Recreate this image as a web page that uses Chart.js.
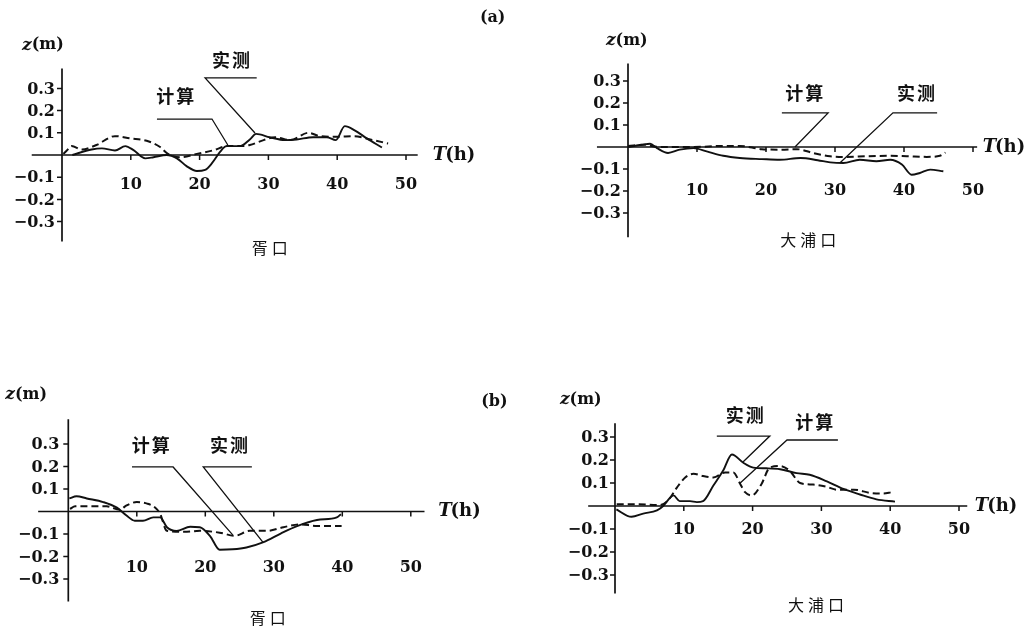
<!DOCTYPE html>
<html><head><meta charset="utf-8">
<script src="https://cdn.jsdelivr.net/npm/chart.js@4"></script>
<style>
html,body{margin:0;padding:0;background:#fff;width:1033px;height:629px;overflow:hidden}
canvas{position:absolute;left:0;top:0}
</style></head><body>
<canvas id="c0" width="1033" height="629"></canvas>
<canvas id="c1" width="1033" height="629"></canvas>
<canvas id="c2" width="1033" height="629"></canvas>
<canvas id="c3" width="1033" height="629"></canvas>
<script>
// ---------- data ----------
const xTicks = [10, 20, 30, 40, 50];
const yTicks = [-0.3, -0.2, -0.1, 0.1, 0.2, 0.3];
const yTickLabels = ['\u22120.3', '\u22120.2', '\u22120.1', '0.1', '0.2', '0.3'];
const seriesNames = ['实测', '计算'];
const stationNames = ['胥口', '大浦口', '胥口', '大浦口'];
const groupLabels = ['(a)', '(b)'];

// (a) 胥口
const aXkMeasT = [1.5, 4.3, 5.8, 7.7, 9.2, 10.4, 12.1, 13.3, 15.2, 16.7, 18.1, 19.6, 20.8, 21.8, 23.0, 23.9, 25.9, 27.3, 28.2, 30.2, 32.4, 34.1, 36.5, 38.5, 39.8, 41.1, 42.6, 44.3, 46.5];
const aXkMeasZ = [0, 0.025, 0.03, 0.02, 0.04, 0.022, -0.015, -0.01, 0, -0.015, -0.05, -0.072, -0.067, -0.037, 0.015, 0.04, 0.04, 0.07, 0.095, 0.08, 0.067, 0.07, 0.08, 0.08, 0.067, 0.13, 0.11, 0.075, 0.034];
const aXkCalcT = [0.2, 0.7, 1.4, 2.9, 5.0, 7.7, 9.9, 12.3, 14.2, 15.4, 17.1, 19.6, 22.1, 24.0, 25.9, 27.3, 29.3, 31.0, 33.2, 35.8, 37.5, 40.0, 42.4, 44.8, 47.4];
const aXkCalcZ = [0.005, 0.02, 0.04, 0.025, 0.045, 0.085, 0.075, 0.064, 0.037, 0.005, -0.01, 0.005, 0.022, 0.04, 0.04, 0.045, 0.067, 0.08, 0.067, 0.1, 0.085, 0.082, 0.085, 0.07, 0.052];

// (a) 大浦口
const aDpMeasT = [0, 2.0, 3.2, 4.2, 5.8, 7.5, 9.5, 11.4, 13.8, 16.2, 19.4, 22.0, 25.0, 27.5, 29.3, 31.2, 33.6, 36.0, 38.0, 39.7, 41.1, 42.3, 43.8, 45.7];
const aDpMeasZ = [0, 0.01, 0.015, -0.005, -0.027, -0.012, -0.005, -0.02, -0.04, -0.05, -0.055, -0.058, -0.05, -0.06, -0.07, -0.073, -0.058, -0.065, -0.058, -0.08, -0.126, -0.118, -0.103, -0.11];
const aDpCalcT = [0, 2.4, 4.5, 9.5, 13.8, 16.2, 19.4, 22.0, 24.5, 26.8, 29.3, 31.7, 34.6, 38.0, 40.4, 43.3, 45.2, 46.0];
const aDpCalcZ = [0.005, 0.01, 0, 0, 0.005, 0.005, -0.01, -0.012, -0.01, -0.027, -0.042, -0.045, -0.042, -0.04, -0.042, -0.045, -0.04, -0.025];

// (b) 胥口
const bXkMeasT = [0.15, 1.2, 2.7, 5.1, 7.1, 8.5, 9.7, 10.9, 12.4, 13.4, 14.4, 15.8, 17.8, 19.2, 20.7, 22.1, 24.0, 26.0, 28.5, 31.0, 33.4, 36.3, 39.2, 39.8];
const bXkMeasZ = [0.058, 0.068, 0.058, 0.042, 0.017, -0.018, -0.041, -0.041, -0.026, -0.026, -0.07, -0.086, -0.068, -0.07, -0.109, -0.17, -0.168, -0.16, -0.136, -0.098, -0.065, -0.038, -0.026, -0.012];
const bXkCalcT = [0.25, 1.0, 2.7, 5.6, 7.5, 8.5, 10.0, 11.5, 12.7, 13.4, 14.4, 17.3, 19.2, 22.1, 24.3, 26.5, 29.0, 31.4, 33.8, 36.3, 39.9];
const bXkCalcZ = [0.012, 0.023, 0.023, 0.023, 0.008, 0.027, 0.042, 0.035, 0.017, -0.01, -0.086, -0.09, -0.086, -0.094, -0.108, -0.086, -0.086, -0.07, -0.057, -0.064, -0.064];

// (b) 大浦口
const bDpMeasT = [0.2, 2.4, 4.1, 6.1, 7.0, 8.0, 8.5, 9.4, 10.9, 11.9, 12.8, 14.3, 15.7, 17.0, 18.6, 20.1, 22.0, 24.0, 26.4, 28.3, 30.8, 33.2, 35.6, 38.0, 40.7];
const bDpMeasZ = [-0.015, -0.047, -0.033, -0.019, 0, 0.036, 0.046, 0.021, 0.021, 0.017, 0.021, 0.089, 0.153, 0.224, 0.189, 0.167, 0.164, 0.16, 0.143, 0.136, 0.107, 0.074, 0.05, 0.029, 0.019];
const bDpCalcT = [0.25, 3.0, 6.5, 7.7, 9.0, 10.2, 11.4, 12.8, 14.3, 16.0, 17.2, 18.2, 18.9, 19.9, 21.3, 22.5, 24.0, 25.4, 26.9, 28.8, 30.8, 32.2, 34.7, 37.1, 39.0, 40.2];
const bDpCalcZ = [0.008, 0.008, 0.004, 0.024, 0.08, 0.124, 0.14, 0.13, 0.124, 0.146, 0.146, 0.096, 0.06, 0.046, 0.096, 0.167, 0.174, 0.153, 0.1, 0.093, 0.083, 0.071, 0.071, 0.057, 0.054, 0.06];

// ---------- layout (pixel mapping of each panel, leader/label anchors in data units) ----------
const XMIN = -8, XMAX = 55, YMIN = -0.5, YMAX = 0.5;
const panels = [
  { x0: 62, sx: 6.88, y0: 155, sy: 222, meas: [aXkMeasT, aXkMeasZ], calc: [aXkCalcT, aXkCalcZ],
    xAxis: [-4.4, 51.7], yAxis: [-0.39, 0.39], xLabZ: -0.135, yLabGap: 7,
    caption: [stationNames[0], 30.5, -0.419], zm: [-5.8, 0.495], th: 53.9, group: [groupLabels[0], 62.6, 0.617],
    calcLead: [[13.8, 0.162], [21.8, 0.162], [24.1, 0.045]], calcLab: [16.6, 0.266],
    measLead: [[28.3, 0.347], [20.8, 0.347], [28.05, 0.099]], measLab: [24.7, 0.428] },
  { x0: 628, sx: 6.9, y0: 147, sy: 220, meas: [aDpMeasT, aDpMeasZ], calc: [aDpCalcT, aDpCalcZ],
    xAxis: [-4.5, 50.6], yAxis: [-0.41, 0.38], xLabZ: -0.2, yLabGap: 7,
    caption: [stationNames[1], 26.4, -0.423], zm: [-3.2, 0.482], th: 51.4, group: null,
    calcLead: [[22.3, 0.155], [29.0, 0.155], [24.2, 0.0]], calcLab: [25.7, 0.245],
    measLead: [[44.8, 0.155], [38.4, 0.155], [30.7, -0.073]], measLab: [41.9, 0.245] },
  { x0: 68.3, sx: 6.85, y0: 511.5, sy: 225, meas: [bXkMeasT, bXkMeasZ], calc: [bXkCalcT, bXkCalcZ],
    xAxis: [-4.4, 52], yAxis: [-0.40, 0.41], xLabZ: -0.251, yLabGap: 9,
    caption: [stationNames[2], 29.4, -0.473], zm: [-9.2, 0.518], th: 54.0, group: [groupLabels[1], 62.2, 0.487],
    calcLead: [[9.3, 0.198], [15.3, 0.198], [24.0, -0.104]], calcLab: [12.2, 0.296],
    measLead: [[26.8, 0.198], [19.7, 0.198], [28.4, -0.136]], measLab: [23.6, 0.296] },
  { x0: 615, sx: 6.88, y0: 506, sy: 230, meas: [bDpMeasT, bDpMeasZ], calc: [bDpCalcT, bDpCalcZ],
    xAxis: [-3.9, 51.2], yAxis: [-0.38, 0.36], xLabZ: -0.104, yLabGap: 6,
    caption: [stationNames[3], 29.5, -0.43], zm: [-8.0, 0.461], th: 52.3, group: null,
    calcLead: [[32.4, 0.287], [25.0, 0.287], [18.2, 0.1]], calcLab: [29.1, 0.365],
    measLead: [[14.8, 0.304], [22.5, 0.304], [18.6, 0.191]], measLab: [19.0, 0.396] }
];

const SERIF = '"DejaVu Serif", "Liberation Serif", serif';
const NUM_FONT = 'bold 16px ' + SERIF;
const CJK_BOLD = 'bold 18px "Noto Sans CJK SC", sans-serif';
const CJK_REG = '16px "Noto Sans CJK SC", sans-serif';
const INK = '#111';

function makePlugin(p) {
  return {
    id: 'figAxes',
    afterDatasetsDraw(chart) {
      const xs = chart.scales.x, ys = chart.scales.y, ctx = chart.ctx;
      const X = v => xs.getPixelForValue(v), Y = v => ys.getPixelForValue(v);
      ctx.save();
      ctx.strokeStyle = INK; ctx.fillStyle = INK; ctx.lineCap = 'butt';
      // axes
      ctx.lineWidth = 1.7;
      ctx.beginPath();
      ctx.moveTo(X(p.xAxis[0]), Y(0)); ctx.lineTo(X(p.xAxis[1]), Y(0));
      ctx.moveTo(X(0), Y(p.yAxis[1])); ctx.lineTo(X(0), Y(p.yAxis[0]));
      ctx.stroke();
      // ticks
      ctx.lineWidth = 1.5;
      ctx.beginPath();
      xTicks.forEach(t => { ctx.moveTo(X(t), Y(0)); ctx.lineTo(X(t), Y(0) + 5); });
      yTicks.forEach(v => { ctx.moveTo(X(0) - 5, Y(v)); ctx.lineTo(X(0), Y(v)); });
      ctx.stroke();
      // tick labels
      ctx.font = NUM_FONT;
      ctx.textAlign = 'center'; ctx.textBaseline = 'middle';
      xTicks.forEach(t => ctx.fillText(String(t), X(t), Y(p.xLabZ)));
      ctx.textAlign = 'right';
      yTicks.forEach((v, i) => ctx.fillText(yTickLabels[i], X(0) - p.yLabGap, Y(v) + 1));
      // axis titles
      ctx.textAlign = 'left';
      let x = X(p.zm[0]), y = Y(p.zm[1]);
      ctx.font = 'bold italic 17px ' + SERIF;
      ctx.fillText('z', x, y); x += ctx.measureText('z').width;
      ctx.font = 'bold 16px ' + SERIF; ctx.fillText('(m)', x, y);
      x = X(p.th); y = Y(0);
      ctx.font = 'bold italic 18px ' + SERIF;
      ctx.fillText('T', x, y); x += ctx.measureText('T').width - 1;
      ctx.font = 'bold 18px ' + SERIF; ctx.fillText('(h)', x, y);
      // group label
      if (p.group) {
        ctx.textAlign = 'center';
        ctx.font = NUM_FONT;
        ctx.fillText(p.group[0], X(p.group[1]), Y(p.group[2]));
      }
      // caption
      ctx.textAlign = 'center';
      ctx.font = CJK_REG;
      ctx.letterSpacing = '4px';
      ctx.fillText(p.caption[0], X(p.caption[1]), Y(p.caption[2]));
      ctx.letterSpacing = '0px';
      // leaders
      ctx.lineWidth = 1.3;
      [p.calcLead, p.measLead].forEach(L => {
        ctx.beginPath();
        ctx.moveTo(X(L[0][0]), Y(L[0][1]));
        for (let i = 1; i < L.length; i++) ctx.lineTo(X(L[i][0]), Y(L[i][1]));
        ctx.stroke();
      });
      ctx.font = CJK_BOLD;
      ctx.letterSpacing = '2px';
      ctx.fillText(seriesNames[1], X(p.calcLab[0]), Y(p.calcLab[1]));
      ctx.fillText(seriesNames[0], X(p.measLab[0]), Y(p.measLab[1]));
      ctx.restore();
    }
  };
}

function pts(arr) { return arr[0].map((t, i) => ({ x: t, y: arr[1][i] })); }

panels.forEach((p, k) => {
  const left = p.x0 + XMIN * p.sx, right = 1033 - (p.x0 + XMAX * p.sx);
  const top = p.y0 - YMAX * p.sy, bottom = 629 - (p.y0 - YMIN * p.sy);
  new Chart(document.getElementById('c' + k), {
    type: 'line',
    data: {
      datasets: [
        { label: seriesNames[0], data: pts(p.meas), borderColor: INK, borderWidth: 1.9,
          pointRadius: 0, fill: false, cubicInterpolationMode: 'monotone' },
        { label: seriesNames[1], data: pts(p.calc), borderColor: INK, borderWidth: 2,
          borderDash: [7, 4], pointRadius: 0, fill: false, cubicInterpolationMode: 'monotone' }
      ]
    },
    options: {
      responsive: false, animation: false, events: [],
      layout: { padding: { left, right, top, bottom } },
      plugins: { legend: { display: false }, title: { display: false }, tooltip: { enabled: false } },
      scales: {
        x: { type: 'linear', min: XMIN, max: XMAX, display: false },
        y: { type: 'linear', min: YMIN, max: YMAX, display: false }
      }
    },
    plugins: [makePlugin(p)]
  });
});
</script>
</body></html>
